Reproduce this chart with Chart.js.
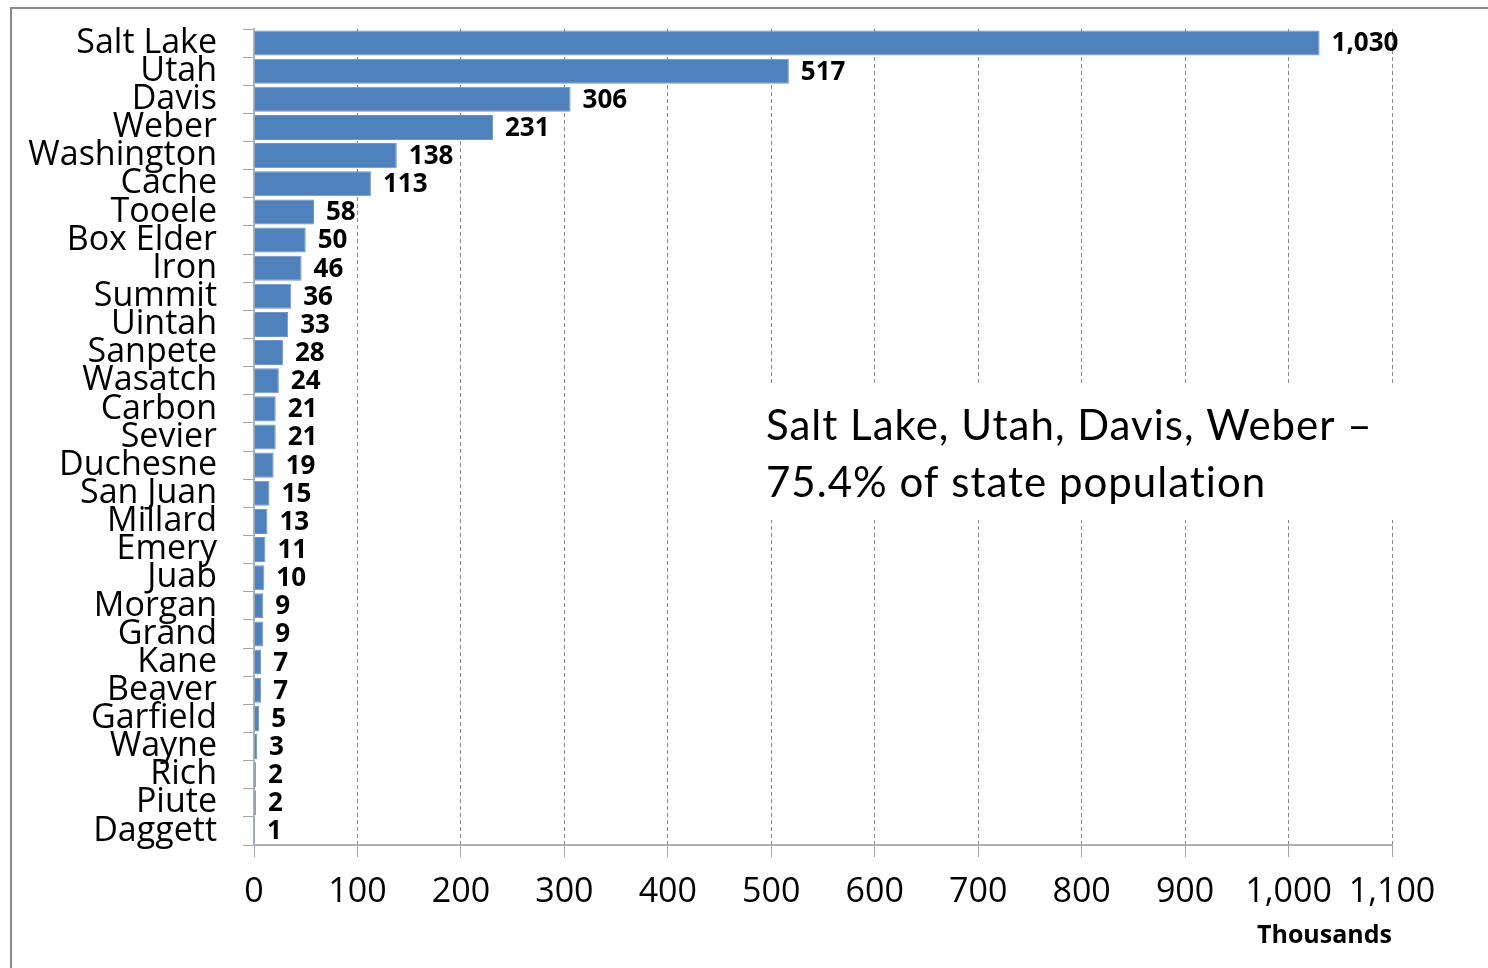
<!DOCTYPE html>
<html>
<head>
<meta charset="utf-8">
<script src="https://cdn.jsdelivr.net/npm/chart.js@4.4.0/dist/chart.umd.min.js"></script>
<style>
  html, body { margin: 0; padding: 0; background: #fff; overflow: hidden; }
  #wrap { position: relative; width: 1488px; height: 968px; }
  #frame { position: absolute; left: 10px; top: 7px; width: 1600px; height: 1100px; border: 2px solid #8c8c8c; box-sizing: border-box; }
  canvas { position: absolute; left: 0; top: 0; }
</style>
</head>
<body>
<div id="wrap">
  <div id="frame"></div>
  <canvas id="popChart" width="1488" height="968"></canvas>
</div>
<script>
const counties = ['Salt Lake', 'Utah', 'Davis', 'Weber', 'Washington', 'Cache', 'Tooele', 'Box Elder',
    'Iron', 'Summit', 'Uintah', 'Sanpete', 'Wasatch', 'Carbon', 'Sevier', 'Duchesne', 'San Juan',
    'Millard', 'Emery', 'Juab', 'Morgan', 'Grand', 'Kane', 'Beaver', 'Garfield', 'Wayne', 'Rich',
    'Piute', 'Daggett'];
const population = [1030, 517, 306, 231, 138, 113, 58, 50, 46, 36, 33, 28, 24, 21, 21, 19, 15, 13,
    11, 10, 9, 9, 7, 7, 5, 3, 2, 2, 1];
const axisMax = 1100;
const axisStep = 100;
const noteLines = ['Salt Lake, Utah, Davis, Weber \u2013', '75.4% of state population'];

// bold numbers to the right of each bar
const barValues = {
    id: 'barValues',
    afterDatasetsDraw(chart) {
        const ctx = chart.ctx;
        const meta = chart.getDatasetMeta(0);
        ctx.save();
        ctx.font = 'bold 26px "Open Sans"';
        ctx.fillStyle = '#000';
        ctx.textAlign = 'left';
        ctx.textBaseline = 'middle';
        meta.data.forEach((bar, i) => {
            ctx.fillText(population[i].toLocaleString('en-US'), bar.x + 12, bar.y + 1);
        });
        ctx.restore();
    }
};

// white text box sitting over the grid
const noteBox = {
    id: 'noteBox',
    afterDraw(chart) {
        const ctx = chart.ctx;
        ctx.save();
        ctx.fillStyle = '#fff';
        ctx.fillRect(745, 383, 660, 137);
        ctx.font = '42px Lato';
        ctx.letterSpacing = '1px';
        ctx.fillStyle = '#000';
        ctx.textAlign = 'left';
        ctx.textBaseline = 'alphabetic';
        ctx.fillText(noteLines[0], 766, 440);
        ctx.fillText(noteLines[1], 766, 497);
        ctx.restore();
    }
};

new Chart(document.getElementById('popChart').getContext('2d'), {
    type: 'bar',
    data: {
        labels: counties,
        datasets: [{
            data: population,
            backgroundColor: '#4f81bd',
            borderColor: '#7096c8',
            borderWidth: 1,
            barPercentage: 0.89,
            categoryPercentage: 1
        }]
    },
    options: {
        indexAxis: 'y',
        responsive: false,
        animation: false,
        layout: { padding: { top: 29, right: 96, left: 0, bottom: 13 } },
        plugins: {
            legend: { display: false },
            tooltip: { enabled: false }
        },
        scales: {
            x: {
                min: 0,
                max: axisMax,
                afterFit: scale => { scale.height = 110; },
                ticks: {
                    stepSize: axisStep,
                    padding: 15,
                    color: '#000',
                    font: { family: '"Open Sans"', size: 34 },
                    callback: v => v.toLocaleString('en-US')
                },
                grid: {
                    color: '#8a8a8a',
                    lineWidth: 1,
                    tickLength: 12,
                    tickColor: '#a6a6a6',
                    tickBorderDash: []
                },
                border: { color: '#b0b0b0', width: 2, dash: [4, 3] },
                title: {
                    display: true,
                    text: 'Thousands',
                    align: 'end',
                    color: '#000',
                    font: { family: '"Open Sans"', size: 25, weight: 'bold' },
                    padding: { top: 0 }
                }
            },
            y: {
                afterFit: scale => {
                    scale.width = 254;
                    scale.paddingTop = 0;
                    scale.paddingBottom = 0;
                },
                ticks: {
                    autoSkip: false,
                    padding: 26,
                    color: '#000',
                    font: { family: '"Open Sans"', size: 34, lineHeight: 1 }
                },
                grid: {
                    offset: true,
                    drawOnChartArea: false,
                    tickLength: 11,
                    tickColor: '#a6a6a6'
                },
                border: { color: '#b0b0b0', width: 2 }
            }
        }
    },
    plugins: [barValues, noteBox]
});
</script>
</body>
</html>
